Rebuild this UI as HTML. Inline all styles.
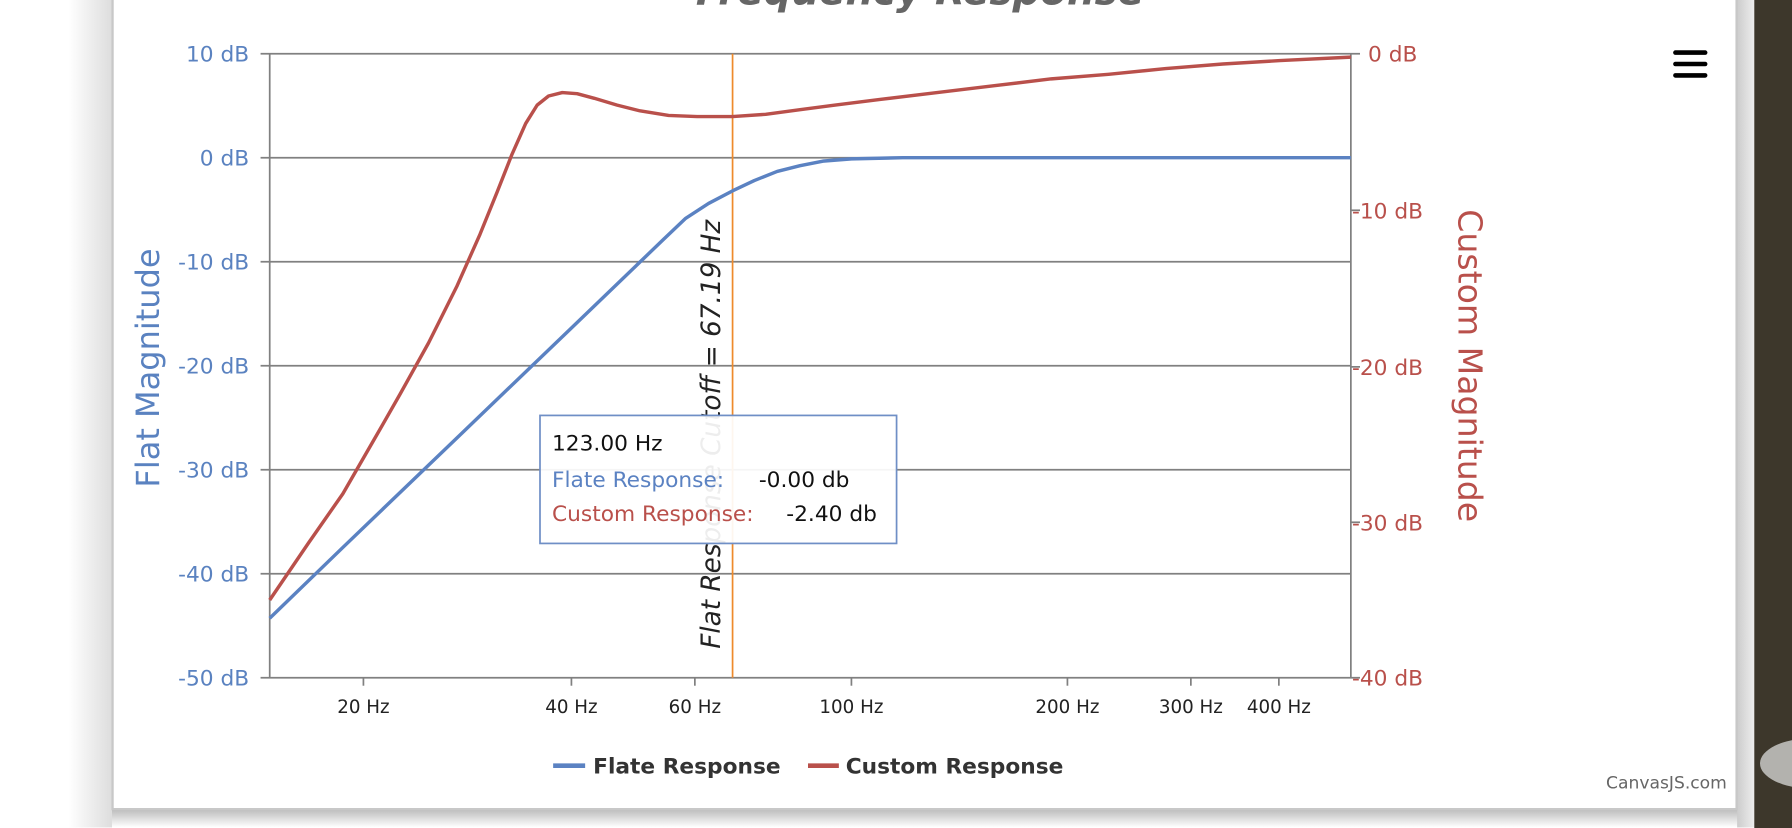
<!DOCTYPE html>
<html><head><meta charset="utf-8"><style>
html,body{margin:0;padding:0;width:1792px;height:828px;overflow:hidden;background:#fff}
svg{display:block;overflow:hidden}
text{font-family:"DejaVu Sans","Liberation Sans",sans-serif}
</style></head><body>
<svg width="1792" height="828" viewBox="0 0 1568 724.5" preserveAspectRatio="none" xmlns="http://www.w3.org/2000/svg">
<defs>
<linearGradient id="sh" x1="0" y1="0" x2="0" y2="1"><stop offset="0" stop-color="#bbb"/><stop offset="1" stop-color="#fff"/></linearGradient>
<linearGradient id="shr" x1="0" y1="0" x2="1" y2="0"><stop offset="0" stop-color="#ccc"/><stop offset="1" stop-color="#eee"/></linearGradient>
<linearGradient id="shl" x1="1" y1="0" x2="0" y2="0"><stop offset="0" stop-color="#ddd"/><stop offset="1" stop-color="#fff"/></linearGradient>
</defs>
<rect x="60" y="0" width="38" height="724" fill="url(#shl)"/>
<rect x="98" y="708" width="1425" height="16" fill="url(#sh)"/>
<rect x="1520" y="0" width="15" height="724" fill="url(#shr)"/>
<rect x="1535" y="0" width="33" height="724.5" fill="#3d372b"/>
<ellipse cx="1585" cy="668" rx="45" ry="22" fill="#b3b2ae"/>
<rect x="98.5" y="-2" width="1421" height="710" fill="#fff" stroke="#c8c8c8" stroke-width="2"/>

<text x="805" y="4" text-anchor="middle" font-size="34" font-weight="bold" font-style="italic" fill="#666">Frequency Response</text>

<g stroke="#808080" stroke-width="1.5">
<line x1="228" y1="47" x2="1190" y2="47"/>
<line x1="228" y1="138" x2="1182" y2="138"/>
<line x1="228" y1="229" x2="1182" y2="229"/>
<line x1="228" y1="320" x2="1182" y2="320"/>
<line x1="228" y1="411" x2="1182" y2="411"/>
<line x1="228" y1="502" x2="1182" y2="502"/>
<line x1="228" y1="593" x2="1190" y2="593"/>
<line x1="236" y1="47" x2="236" y2="593"/>
<line x1="1182" y1="47" x2="1182" y2="593"/>
<line x1="1182" y1="184" x2="1190" y2="184"/>
<line x1="1182" y1="321" x2="1190" y2="321"/>
<line x1="1182" y1="457" x2="1190" y2="457"/>
<line x1="318" y1="593" x2="318" y2="600"/>
<line x1="500" y1="593" x2="500" y2="600"/>
<line x1="608" y1="593" x2="608" y2="600"/>
<line x1="745" y1="593" x2="745" y2="600"/>
<line x1="934" y1="593" x2="934" y2="600"/>
<line x1="1042" y1="593" x2="1042" y2="600"/>
<line x1="1119" y1="593" x2="1119" y2="600"/>
</g>

<g font-size="19" fill="#5a82c0" text-anchor="end">
<text x="218" y="54">10 dB</text>
<text x="218" y="145">0 dB</text>
<text x="218" y="236">-10 dB</text>
<text x="218" y="327">-20 dB</text>
<text x="218" y="418">-30 dB</text>
<text x="218" y="509">-40 dB</text>
<text x="218" y="600">-50 dB</text>
</g>
<g font-size="19" fill="#b9504b">
<text x="1197" y="54">0 dB</text>
<text x="1183" y="191">-10 dB</text>
<text x="1183" y="328">-20 dB</text>
<text x="1183" y="464">-30 dB</text>
<text x="1183" y="600">-40 dB</text>
</g>
<g font-size="16" fill="#222" text-anchor="middle">
<text x="318" y="624">20 Hz</text>
<text x="500" y="624">40 Hz</text>
<text x="608" y="624">60 Hz</text>
<text x="745" y="624">100 Hz</text>
<text x="934" y="624">200 Hz</text>
<text x="1042" y="624">300 Hz</text>
<text x="1119" y="624">400 Hz</text>
</g>
<text transform="translate(139,322) rotate(-90)" text-anchor="middle" font-size="28" fill="#5a82c0">Flat Magnitude</text>
<text transform="translate(1276,320) rotate(90)" text-anchor="middle" font-size="29" fill="#b9504b">Custom Magnitude</text>

<line x1="641" y1="47" x2="641" y2="593" stroke="#ee8a2c" stroke-width="1.5"/>
<text transform="translate(630,380) rotate(-90)" text-anchor="middle" font-size="23" font-style="italic" fill="#222">Flat Response Cutoff = 67.19 Hz</text>

<polyline fill="none" stroke="#b9504b" stroke-width="3" stroke-linejoin="round" points="236,525 270,475 300,432 330,380 350,345 375,300 400,250 420,205 435,168 448,135 460,108 470,92 480,84 492,81 505,82 520,86 540,92 560,97 585,101 610,102 641,102 670,100 700,96 730,92 770,87 820,81 870,75 920,69 970,65 1020,60 1070,56 1120,53 1182,50"/>
<polyline fill="none" stroke="#5b82c2" stroke-width="3" stroke-linejoin="round" points="236,541 300,479 400,383 500,287 580,210 600,191 620,178 641,167 660,158 680,150 700,145 720,141 745,139 790,138 1182,138"/>

<rect x="472.5" y="363.5" width="312" height="112" fill="#fff" fill-opacity="0.92" stroke="#6f8fc6" stroke-width="1.5"/>
<g font-size="19">
<text x="483" y="394" fill="#111">123.00 Hz</text>
<text x="483" y="426" fill="#5b82c2">Flate Response:</text>
<text x="664" y="426" fill="#111">-0.00 db</text>
<text x="483" y="456" fill="#b9504b">Custom Response:</text>
<text x="688" y="456" fill="#111">-2.40 db</text>
</g>

<line x1="484" y1="670" x2="512" y2="670" stroke="#5b82c2" stroke-width="4"/>
<text x="519" y="677" font-size="19" font-weight="bold" fill="#333">Flate Response</text>
<line x1="707" y1="670" x2="734" y2="670" stroke="#b9504b" stroke-width="4"/>
<text x="740" y="677" font-size="19" font-weight="bold" fill="#333">Custom Response</text>

<g stroke="#000" stroke-width="4" stroke-linecap="round">
<line x1="1466" y1="46" x2="1492" y2="46"/>
<line x1="1466" y1="56" x2="1492" y2="56"/>
<line x1="1466" y1="66" x2="1492" y2="66"/>
</g>
<text x="1511" y="690" text-anchor="end" font-family="Liberation Sans, sans-serif" font-size="15" fill="#666">CanvasJS.com</text>
</svg>
</body></html>
